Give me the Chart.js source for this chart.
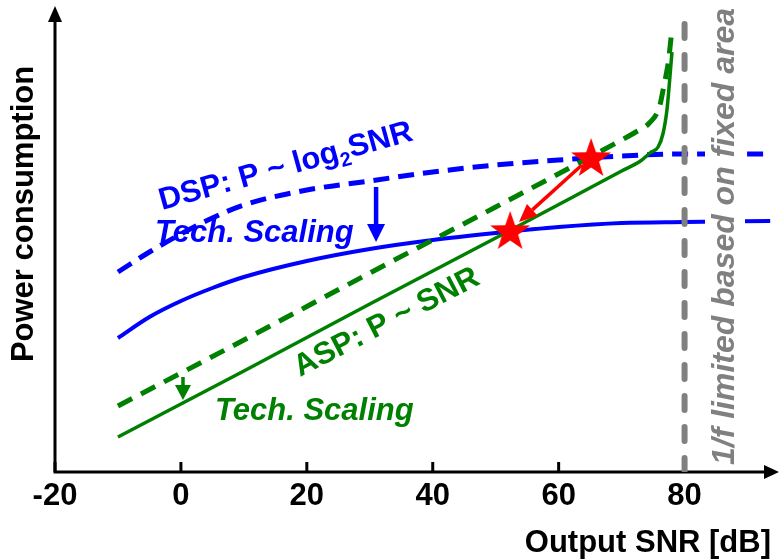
<!DOCTYPE html>
<html>
<head>
<meta charset="utf-8">
<script src="https://cdn.jsdelivr.net/npm/chart.js"></script>
<style>
  body { margin: 0; background: #fff; }
  #wrap { width: 779px; height: 559px; }
</style>
</head>
<body>
<div id="wrap"><canvas id="chart" width="779" height="559"></canvas></div>
<script>
// ---------------- data (arbitrary power units) ----------------
const tickValues = [-20, 0, 20, 40, 60, 80];
const tickLabels = ['-20', '0', '20', '40', '60', '80'];

const dspSnr = [-10, -5, 0, 5, 10, 20, 30, 40, 50, 60, 70, 80, 93.6];
const dspOld = [200, 220, 238, 254, 267, 282, 291, 300, 307, 312, 316, 318, 318];
const dspNew = [134, 155, 171, 184, 195, 211, 223, 232, 239, 245, 249, 250, 251];

const aspOldSnr = [-10, 10, 30, 50, 70, 72, 74.4, 76, 76.8, 77.3, 77.7, 78.0];
const aspOld = [66, 132, 199, 265, 332, 339, 349, 365, 389, 405, 425, 444];
const aspNewSnr = [-10, 10, 30, 50, 70, 73, 74.5, 75.8, 76.6, 77.2, 77.5, 77.8, 78.0];
const aspNew = [35, 101, 168, 234, 301, 311, 319, 325, 339, 362, 382, 405, 420];

const limitSnr = [80, 80];
const limitPow = [0, 460];

const starSnr = [65.15, 52.3];
const starPow = [315, 242];

// arrows: [x1, y1, x2, y2] in data units
const dspArrow = [31, 285, 31, 230];
const aspArrow = [0.33, 95, 0.33, 72];
const moveArrow = [63.7, 307, 53.7, 250];

// ---------------- helpers ----------------
function pts(xs, ys) {
  return xs.map((x, i) => ({ x: x, y: ys[i] }));
}

function makeStar(r) {
  const c = document.createElement('canvas');
  c.width = c.height = Math.ceil(r * 2 + 2);
  const g = c.getContext('2d');
  const cx = c.width / 2, cy = c.height / 2 + r * 0.1;
  g.beginPath();
  for (let i = 0; i < 10; i++) {
    const rr = i % 2 === 0 ? r : r * 0.4;
    const a = -Math.PI / 2 + i * Math.PI / 5;
    g.lineTo(cx + rr * Math.cos(a), cy + rr * Math.sin(a));
  }
  g.closePath();
  g.fillStyle = '#ff0000';
  g.fill();
  return c;
}

const FONT = '"Liberation Sans", Arial, sans-serif';

function drawArrow(ctx, x1, y1, x2, y2, color, lw, headLen, headHalf) {
  const a = Math.atan2(y2 - y1, x2 - x1);
  const bx = x2 - headLen * Math.cos(a), by = y2 - headLen * Math.sin(a);
  ctx.save();
  ctx.strokeStyle = color;
  ctx.fillStyle = color;
  ctx.lineWidth = lw;
  ctx.beginPath();
  ctx.moveTo(x1, y1);
  ctx.lineTo(bx, by);
  ctx.stroke();
  ctx.beginPath();
  ctx.moveTo(x2, y2);
  ctx.lineTo(bx + headHalf * Math.sin(a), by - headHalf * Math.cos(a));
  ctx.lineTo(bx - headHalf * Math.sin(a), by + headHalf * Math.cos(a));
  ctx.closePath();
  ctx.fill();
  ctx.restore();
}

function drawText(ctx, str, x, y, angle, font, color, align) {
  ctx.save();
  ctx.translate(x, y);
  ctx.rotate(angle);
  ctx.font = font;
  ctx.fillStyle = color;
  ctx.textAlign = align || 'left';
  ctx.textBaseline = 'alphabetic';
  ctx.fillText(str, 0, 0);
  ctx.restore();
}

// ---------------- axes, arrows and labels ----------------
const overlay = {
  id: 'overlay',
  beforeDatasetsDraw(chart) {
    const ctx = chart.ctx;
    const xs = chart.scales.x, ys = chart.scales.y;
    const x0 = xs.left, y0 = ys.bottom;
    ctx.save();
    ctx.strokeStyle = '#000';
    ctx.fillStyle = '#000';
    ctx.lineWidth = 3;
    ctx.beginPath();
    ctx.moveTo(x0, y0 + 1.5);
    ctx.lineTo(x0, 20);
    ctx.moveTo(x0 - 1.5, y0);
    ctx.lineTo(765, y0);
    ctx.stroke();
    ctx.beginPath();
    ctx.moveTo(x0 - 7, 22); ctx.lineTo(x0 + 7, 22); ctx.lineTo(x0, 6); ctx.closePath();
    ctx.moveTo(764, y0 - 7); ctx.lineTo(764, y0 + 7); ctx.lineTo(779, y0); ctx.closePath();
    ctx.fill();

    ctx.font = 'bold 31px ' + FONT;
    ctx.textAlign = 'center';
    ctx.textBaseline = 'alphabetic';
    tickValues.forEach((v, i) => {
      const px = xs.getPixelForValue(v);
      ctx.beginPath();
      ctx.moveTo(px, y0);
      ctx.lineTo(px, y0 - 10);
      ctx.stroke();
      ctx.fillText(tickLabels[i], px, 505);
    });
    ctx.restore();

    drawText(ctx, 'Output SNR [dB]', 771, 552, 0, 'bold 31px ' + FONT, '#000', 'right');
    drawText(ctx, 'Power consumption', 33, 214, -Math.PI / 2, 'bold 31px ' + FONT, '#000', 'center');
  },
  afterDatasetsDraw(chart) {
    const ctx = chart.ctx;
    const xs = chart.scales.x, ys = chart.scales.y;
    const px = v => xs.getPixelForValue(v), py = v => ys.getPixelForValue(v);

    drawArrow(ctx, px(dspArrow[0]), py(dspArrow[1]), px(dspArrow[2]), py(dspArrow[3]), '#0000ff', 4.5, 18, 9);
    drawArrow(ctx, px(aspArrow[0]), py(aspArrow[1]), px(aspArrow[2]), py(aspArrow[3]), '#008000', 3.5, 15, 8);
    drawArrow(ctx, px(moveArrow[0]), py(moveArrow[1]), px(moveArrow[2]), py(moveArrow[3]), '#ff0000', 3.5, 18, 8);

    // DSP label with subscript
    ctx.save();
    ctx.translate(162, 210);
    ctx.rotate(-15.5 * Math.PI / 180);
    ctx.fillStyle = '#0000ff';
    ctx.textBaseline = 'alphabetic';
    ctx.font = 'bold 31px ' + FONT;
    ctx.fillText('DSP: P ~ log', 0, 0);
    let w = ctx.measureText('DSP: P ~ log').width;
    ctx.font = 'bold 20px ' + FONT;
    ctx.fillText('2', w, 7);
    w += ctx.measureText('2').width;
    ctx.font = 'bold 31px ' + FONT;
    ctx.fillText('SNR', w, 0);
    ctx.restore();

    drawText(ctx, 'Tech. Scaling', 155, 242, 0, 'italic bold 31px ' + FONT, '#0000ff');
    drawText(ctx, 'ASP: P ~ SNR', 300, 377, -27.3 * Math.PI / 180, 'bold 31px ' + FONT, '#008000');
    drawText(ctx, 'Tech. Scaling', 215, 420, 0, 'italic bold 31px ' + FONT, '#008000');

    ctx.save();
    ctx.fillStyle = '#fff';
    ctx.fillRect(705, 0, 40, 467);
    ctx.restore();
    drawText(ctx, '1/f limited based on fixed area', 734, 465, -Math.PI / 2, 'italic bold 32px ' + FONT, '#808080');
  }
};

// ---------------- chart ----------------
new Chart(document.getElementById('chart'), {
  type: 'line',
  data: {
    datasets: [
      {
        data: pts(starSnr, starPow),
        showLine: false,
        pointStyle: makeStar(21),
        pointRadius: 21,
        order: 0
      },
      {
        data: pts(limitSnr, limitPow),
        borderColor: '#808080',
        borderWidth: 6,
        borderDash: [14, 17],
        borderCapStyle: 'round',
        pointRadius: 0,
        order: 1
      },
      {
        data: pts(aspNewSnr, aspNew),
        borderColor: '#008000',
        borderWidth: 3.5,
        cubicInterpolationMode: 'monotone',
        pointRadius: 0,
        order: 2
      },
      {
        data: pts(aspOldSnr, aspOld),
        borderColor: '#008000',
        borderWidth: 5,
        borderDash: [16, 10],
        cubicInterpolationMode: 'monotone',
        pointRadius: 0,
        order: 3
      },
      {
        data: pts(dspSnr, dspNew),
        borderColor: '#0000ff',
        borderWidth: 4,
        cubicInterpolationMode: 'monotone',
        pointRadius: 0,
        order: 4
      },
      {
        data: pts(dspSnr, dspOld),
        borderColor: '#0000ff',
        borderWidth: 5,
        borderDash: [16, 9],
        cubicInterpolationMode: 'monotone',
        pointRadius: 0,
        order: 5
      }
    ]
  },
  options: {
    responsive: false,
    animation: false,
    layout: { autoPadding: false, padding: { left: 55, right: 0, top: 8, bottom: 87 } },
    scales: {
      x: { type: 'linear', min: -20, max: 95, display: false },
      y: { type: 'linear', min: 0, max: 464, display: false }
    },
    plugins: {
      legend: { display: false },
      tooltip: { enabled: false }
    }
  },
  plugins: [overlay]
});
</script>
</body>
</html>
